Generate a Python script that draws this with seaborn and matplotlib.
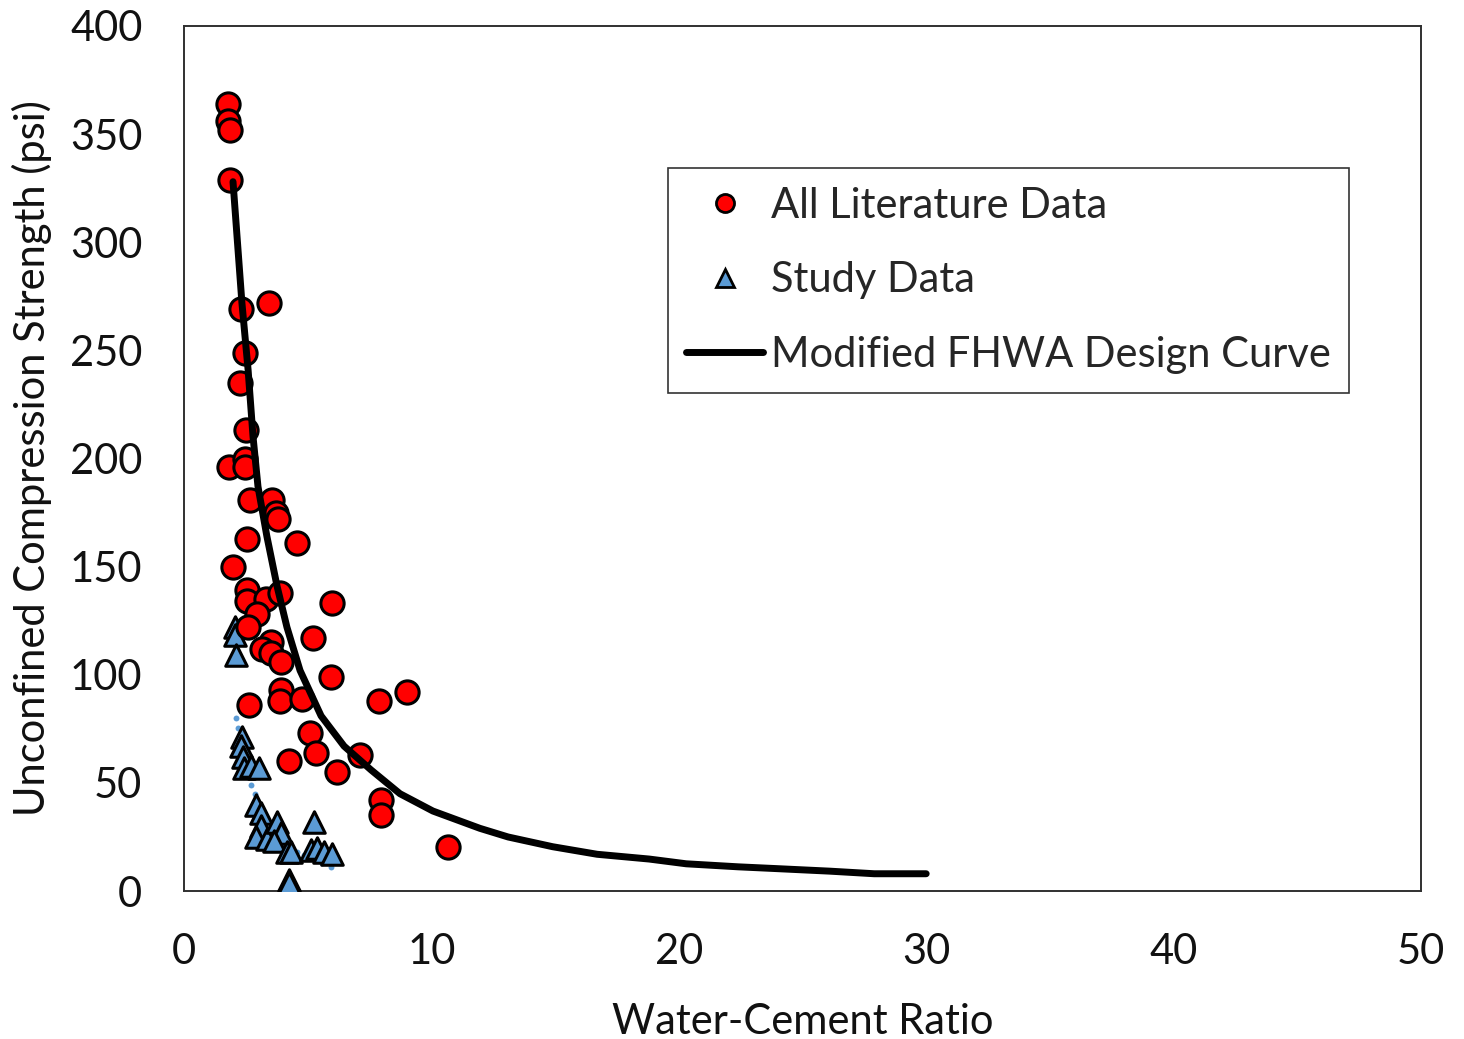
import matplotlib
matplotlib.use("Agg")
import matplotlib.pyplot as plt
from matplotlib.lines import Line2D
import seaborn as sns
import pandas as pd

# Literature data: water-cement ratio vs unconfined compression strength (psi)
lit_wc = [1.78, 1.78, 1.86, 1.86, 2.30, 3.44, 2.47, 2.26, 2.51, 1.82, 2.47, 2.47,
          2.67, 3.56, 3.72, 3.80, 2.55, 4.57, 1.98, 2.55, 2.55, 3.31, 3.88, 5.98,
          2.95, 2.59, 5.21, 3.52, 3.15, 3.52, 3.92, 5.94, 3.92, 3.88, 4.77, 7.88,
          2.63, 5.09, 5.34, 4.24, 6.18, 7.11, 7.96, 7.96, 9.01, 10.67]
lit_ucs = [364, 356, 352, 329, 269, 272, 249, 235, 213, 196, 200, 196,
           181, 181, 175, 172, 163, 161, 150, 139, 134, 135, 138, 133,
           128, 122, 117, 115, 112, 110, 106, 99, 93, 88, 89, 88,
           86, 73, 64, 60, 55, 63, 42, 35, 92, 20.4]

# Study data
study_wc = [2.06, 2.06, 2.10, 2.34, 2.30, 2.38, 2.42, 2.71, 3.03, 2.91, 3.11, 3.11,
            2.91, 3.35, 3.76, 3.92, 3.64, 4.16, 4.32, 5.25, 5.13, 5.38, 5.66, 5.98,
            4.24, 4.24]
study_ucs = [122, 118.5, 109, 71, 67, 62, 57, 58, 57, 40, 36, 30,
             25, 24, 32, 27, 23, 18, 18, 32, 19, 20, 18, 17,
             5, 3.5]

# Individual study specimens plotted as small dots
spec_wc = [2.10, 2.18, 2.71, 2.87, 4.57, 4.85, 5.58, 5.94]
spec_ucs = [80, 75.5, 49, 45, 18, 16.7, 13, 11]

# Modified FHWA design curve
curve_wc = [1.98, 2.34, 2.59, 2.79, 2.99, 3.35, 3.76, 4.16, 4.69, 5.54, 6.47, 7.56,
            8.73, 10.06, 11.96, 13.1, 14.9, 16.7, 18.8, 20.3, 22.4, 23.9, 26.1,
            27.9, 30.0]
curve_ucs = [328, 272, 241, 210, 187, 164, 141, 122, 102, 81, 67, 56,
             45, 37, 29, 25, 20.5, 17, 14.8, 12.6, 11.2, 10.4, 9.2,
             8.0, 8.0]

x_ticks = [0, 10, 20, 30, 40, 50]
y_ticks = [0, 50, 100, 150, 200, 250, 300, 350, 400]

lit = pd.DataFrame({"wc": lit_wc, "ucs": lit_ucs})
study = pd.DataFrame({"wc": study_wc, "ucs": study_ucs})
spec = pd.DataFrame({"wc": spec_wc, "ucs": spec_ucs})
curve = pd.DataFrame({"wc": curve_wc, "ucs": curve_ucs})

sns.set_theme(style="white")
plt.rcParams["font.family"] = ["Lato", "DejaVu Sans"]

RED = "#FF0000"
BLUE = "#5B9BD5"
FS = 30

fig = plt.figure(figsize=(14.64, 10.39), dpi=100)
ax = fig.add_axes([0.1257, 0.1424, 0.8449, 0.8326])

sns.scatterplot(data=spec, x="wc", y="ucs", ax=ax, color=BLUE, s=18,
                linewidth=0, zorder=2)
sns.scatterplot(data=study, x="wc", y="ucs", ax=ax, marker="^", color=BLUE,
                s=240, edgecolor="black", linewidth=2.2, zorder=3)
sns.scatterplot(data=lit, x="wc", y="ucs", ax=ax, marker="o", color=RED,
                s=280, edgecolor="black", linewidth=2.2, zorder=4)
sns.lineplot(data=curve, x="wc", y="ucs", ax=ax, color="black", linewidth=5,
             zorder=5, solid_capstyle="round", solid_joinstyle="round")

ax.set_xlim(0, 50)
ax.set_ylim(0, 400)
ax.set_xticks(x_ticks)
ax.set_yticks(y_ticks)
ax.tick_params(axis="both", length=0, labelsize=FS, pad=30, colors="#111111")
ax.set_xlabel("Water-Cement Ratio", fontsize=FS, labelpad=23, color="#111111")
ax.set_ylabel("Unconfined Compression Strength (psi)", fontsize=FS,
              labelpad=13, color="#111111")
for sp in ax.spines.values():
    sp.set_visible(True)
    sp.set_color("#303030")
    sp.set_linewidth(1.4)

handles = [
    Line2D([], [], linestyle="none", marker="o", markersize=13,
           markerfacecolor=RED, markeredgecolor="black", markeredgewidth=2),
    Line2D([], [], linestyle="none", marker="^", markersize=13,
           markerfacecolor=BLUE, markeredgecolor="black", markeredgewidth=2),
    Line2D([], [], color="black", linewidth=5),
]
labels = ["All Literature Data", "Study Data", "Modified FHWA Design Curve"]
leg = ax.legend(handles, labels, loc="upper left", bbox_to_anchor=(0.391, 0.836),
                borderaxespad=0, fontsize=FS, frameon=True, fancybox=False,
                handlelength=1.85, handletextpad=0.17, labelspacing=0.88,
                borderpad=0.45, markerscale=1.0)
leg.get_frame().set_edgecolor("black")
leg.get_frame().set_linewidth(1.2)

fig.savefig("out.png", dpi=100, facecolor="white")
